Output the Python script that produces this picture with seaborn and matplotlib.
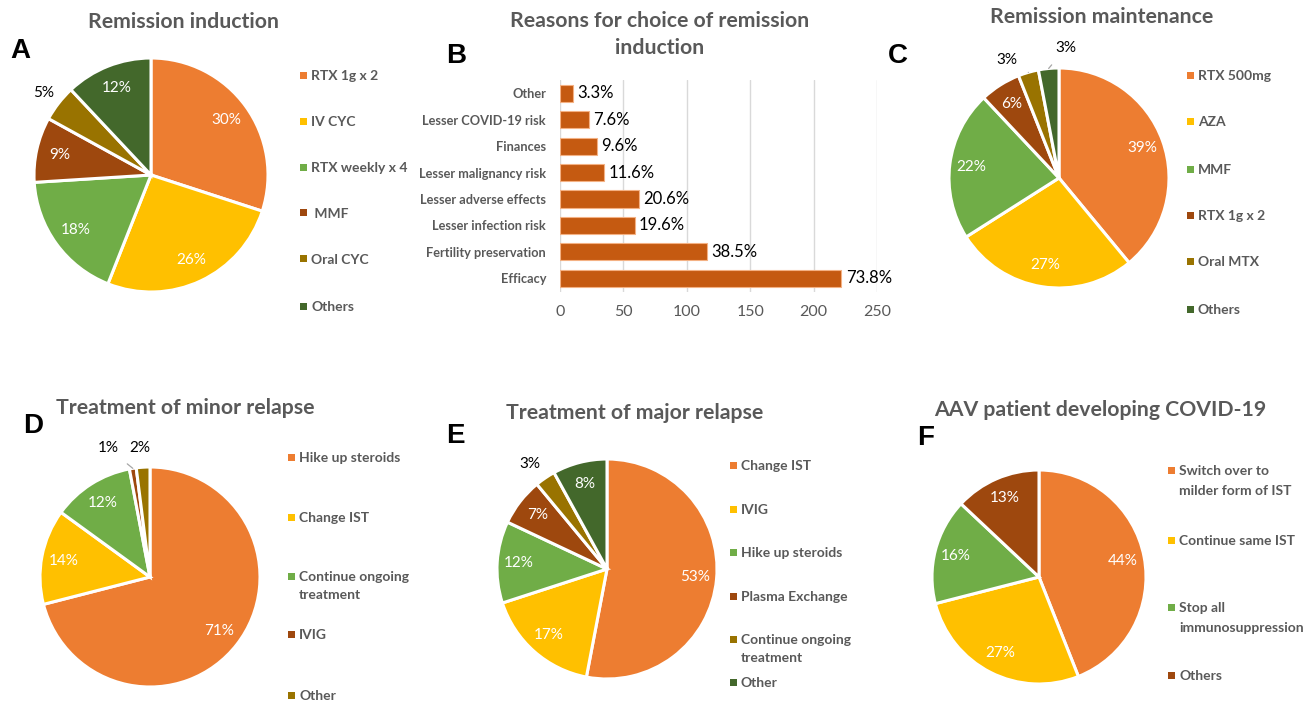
import matplotlib
matplotlib.use("Agg")
import matplotlib.pyplot as plt
import seaborn as sns
import pandas as pd
import numpy as np
from matplotlib.patches import Rectangle

sns.set_theme(style="white")
plt.rcParams['font.family'] = ['Lato', 'DejaVu Sans']

# ---- data ---------------------------------------------------------------
induction_labels = ["RTX 1g x 2", "IV CYC", "RTX weekly x 4", " MMF", "Oral CYC", "Others"]
induction_pct = [30, 26, 18, 9, 5, 12]

reason_labels = ["Other", "Lesser COVID-19 risk", "Finances", "Lesser malignancy risk",
                 "Lesser adverse effects", "Lesser infection risk",
                 "Fertility preservation", "Efficacy"]
reason_counts = [10, 23, 29, 35, 62, 59, 116, 222]
respondents = 301

maintenance_labels = ["RTX 500mg", "AZA", "MMF", "RTX 1g x 2", "Oral MTX", "Others"]
maintenance_pct = [39, 27, 22, 6, 3, 3]

minor_labels = ["Hike up steroids", "Change IST", "Continue ongoing\ntreatment", "IVIG", "Other"]
minor_pct = [71, 14, 12, 1, 2]

major_labels = ["Change IST", "IVIG", "Hike up steroids", "Plasma Exchange",
                "Continue ongoing\ntreatment", "Other"]
major_pct = [53, 17, 12, 7, 3, 8]

covid_labels = ["Switch over to\nmilder form of IST", "Continue same IST",
                "Stop all\nimmunosuppression", "Others"]
covid_pct = [44, 27, 16, 13]

# ---- styling ------------------------------------------------------------
COLORS = ["#ED7D31", "#FFC000", "#70AD47", "#9E480E", "#997300", "#43682B"]
BAR_COLOR = "#C55A11"
GREY = "#595959"

W, H = 1311, 701
fig = plt.figure(figsize=(W / 100, H / 100), dpi=100)
fig.patch.set_facecolor("white")


def px_axes(left, top, width, height):
    return fig.add_axes([left / W, 1 - (top + height) / H, width / W, height / H])


def draw_pie(cx, cy, r, values, outside=None):
    outside = outside or {}
    ax = px_axes(cx - 1.4 * r, cy - 1.4 * r, 2.8 * r, 2.8 * r)
    wedges, _ = ax.pie(values, colors=COLORS[:len(values)], startangle=90,
                       counterclock=False, radius=1,
                       wedgeprops=dict(edgecolor="white", linewidth=2.2))
    ax.set_xlim(-1.4, 1.4)
    ax.set_ylim(-1.4, 1.4)
    ax.set_aspect("equal")
    ax.axis("off")
    for i, (w, v) in enumerate(zip(wedges, values)):
        mid = np.deg2rad((w.theta1 + w.theta2) / 2)
        ex, ey = np.cos(mid), np.sin(mid)
        txt = f"{v}%"
        if i in outside:
            tx, ty, leader = outside[i]
            if leader:
                ax.annotate(txt, xy=(ex, ey), xytext=(tx, ty), ha="center", va="center",
                            fontsize=11, color="black",
                            arrowprops=dict(arrowstyle="-", color="#A6A6A6", lw=0.9,
                                            shrinkA=6, shrinkB=0))
            else:
                ax.text(tx, ty, txt, ha="center", va="center", fontsize=11, color="black")
        else:
            ax.text(0.8 * ex, 0.8 * ey, txt, ha="center", va="center",
                    fontsize=11, color="white")
    return ax


def draw_legend(labels, x, ys, line_px=18):
    """Legend keys: a small square followed by a bold grey label, one per row."""
    for lab, col, y in zip(labels, COLORS, ys):
        fig.patches.append(Rectangle((x / W, 1 - (y + 3.5) / H), 6.5 / W, 7 / H,
                                     transform=fig.transFigure, figure=fig,
                                     facecolor=col, edgecolor="none"))
        for k, line in enumerate(lab.split("\n")):
            fig.text((x + 11) / W, 1 - (y + 5 + k * line_px) / H, line,
                     ha="left", va="baseline", fontsize=10, fontweight="bold",
                     color=GREY)


def title(x, y, s, linespacing=1.08):
    fig.text(x / W, 1 - y / H, s, ha="center", va="center", fontsize=15.3,
             fontweight="bold", color=GREY, linespacing=linespacing)


def letter(x, y, s):
    fig.text(x / W, 1 - y / H, s, ha="center", va="center", fontsize=20,
             fontweight="bold", color="black", family="Liberation Sans")


# ---- A: remission induction --------------------------------------------
title(183, 22, "Remission induction")
letter(20, 51, "A")
draw_pie(151, 175, 117, induction_pct, outside={4: (-0.92, 0.70, False)})
draw_legend(induction_labels, 300, [75, 121, 167, 213, 259, 306])

# ---- B: reasons for choice ------------------------------------------------
title(660, 34.5, "Reasons for choice of remission\ninduction", linespacing=1.42)
letter(456, 56, "B")
bax = px_axes(560, 80, 317, 211.5)
reasons = pd.DataFrame({"reason": reason_labels, "count": reason_counts})
sns.barplot(data=reasons, x="count", y="reason", ax=bax, color=BAR_COLOR,
            saturation=1, width=0.65, edgecolor="#F4B183", linewidth=0.8)
bax.set_xlim(0, 250)
bax.set_xticks(range(0, 251, 50))
bax.set_xlabel("")
bax.set_ylabel("")
bax.xaxis.grid(True, color="#D9D9D9", linewidth=1)
bax.set_axisbelow(True)
for sp in bax.spines.values():
    sp.set_visible(False)
bax.tick_params(axis="x", length=0, pad=10, labelsize=11.5, labelcolor=GREY)
bax.tick_params(axis="y", length=0, pad=10, labelsize=9.2, labelcolor=GREY)
for lab in bax.get_yticklabels():
    lab.set_fontweight("bold")
bax.bar_label(bax.containers[0],
              labels=[f"{c / respondents * 100:.1f}%" for c in reason_counts],
              padding=3, fontsize=12, color="black")

# ---- C: remission maintenance ----------------------------------------------
title(1102, 17, "Remission maintenance")
letter(898, 56, "C")
draw_pie(1059, 178, 110, maintenance_pct,
         outside={4: (-0.47, 1.07, True), 5: (0.06, 1.18, True)})
draw_legend(maintenance_labels, 1187, [75, 121, 169, 215, 261, 309])

# ---- D: minor relapse ----------------------------------------------------
title(185, 408, "Treatment of minor relapse")
letter(33, 426, "D")
draw_pie(150, 577, 110, minor_pct,
         outside={3: (-0.38, 1.17, True), 4: (-0.09, 1.17, False)})
draw_legend(minor_labels, 288, [457, 517, 576, 634, 695])

# ---- E: major relapse ----------------------------------------------------
title(635, 413, "Treatment of major relapse")
letter(455, 436, "E")
draw_pie(607, 569, 110, major_pct, outside={4: (-0.70, 0.95, False)})
draw_legend(major_labels, 730, [465, 509, 552, 596, 639, 682])

# ---- F: COVID-19 ---------------------------------------------------------
title(1100, 410, "AAV patient developing COVID-19")
letter(926, 438, "F")
draw_pie(1039, 577, 107, covid_pct)
draw_legend(covid_labels, 1168, [470, 540, 607, 675], line_px=20)

fig.savefig("out.png", dpi=100, facecolor="white")
